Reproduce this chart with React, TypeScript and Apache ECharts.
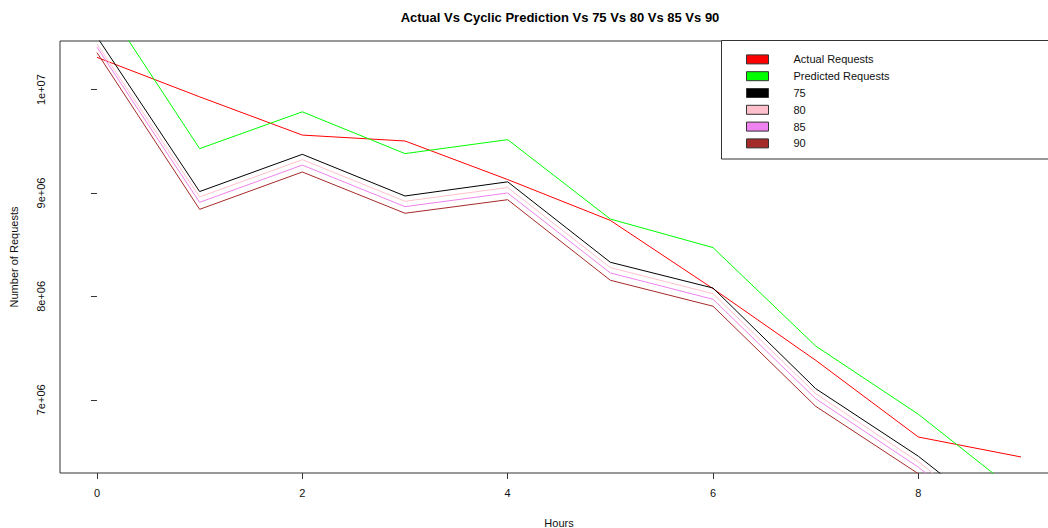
import React, { useEffect, useRef } from "react";
import * as echarts from "echarts";

const hours = [0, 1, 2, 3, 4, 5, 6, 7, 8, 9];
const actual = [10312000, 9930000, 9560000, 9503000, 9130000, 8735000, 8075000, 7382000, 6640000, 6447000];
const predicted = [10941000, 9429000, 9785000, 9381000, 9516000, 8748000, 8472000, 7520000, 6860000, 6076000];
const p75 = [10510000, 9014000, 9374000, 8971000, 9108000, 8330000, 8081000, 7108000, 6454000, 5672000];
const p80 = [10440000, 8962000, 9322000, 8920000, 9053000, 8278000, 8026000, 7060000, 6400000, 5620000];
const p85 = [10410000, 8910000, 9270000, 8868000, 9000000, 8227000, 7972000, 7010000, 6348000, 5570000];
const p90 = [10358000, 8842000, 9203000, 8804000, 8935000, 8156000, 7905000, 6937000, 6285000, 5500000];

const seriesNames = ["Actual Requests", "Predicted Requests", "75", "80", "85", "90"];
const seriesColors = ["#ff0000", "#00ff00", "#000000", "#ffc0cb", "#ee82ee", "#a52a2a"];
const seriesValues = [actual, predicted, p75, p80, p85, p90];

const xTicks = [0, 2, 4, 6, 8];
const yTicks = [7000000, 8000000, 9000000, 10000000];
const yTickLabels = ["7e+06", "8e+06", "9e+06", "1e+07"];

const FONT = "'Liberation Sans', Arial, sans-serif";

export default function App() {
  const ref = useRef<HTMLDivElement>(null);
  useEffect(() => {
    if (!ref.current) return;
    const chart = echarts.init(ref.current, undefined, { renderer: "svg" });
    chart.setOption({
      animation: false,
      backgroundColor: "#ffffff",
      textStyle: { fontFamily: FONT },
      title: {
        text: "Actual Vs Cyclic Prediction Vs 75 Vs 80 Vs 85 Vs 90",
        left: 555,
        top: 6,
        textAlign: "center",
        textStyle: { fontFamily: FONT, fontSize: 13, fontWeight: "bold", color: "#000" },
      },
      grid: {
        left: 60,
        top: 41,
        width: 998,
        height: 432,
        outerBoundsMode: "none",
        containLabel: false,
        show: true,
        borderColor: "#333",
        borderWidth: 1,
        backgroundColor: "transparent",
      },
      graphic: [
        {
          type: "rect",
          shape: { x: 721.5, y: 40.5, width: 400, height: 118.5 },
          style: { fill: "#fff", stroke: "#333", lineWidth: 1 },
          z: 50,
        },
      ],
      legend: {
        orient: "vertical",
        left: 746,
        top: 51,
        padding: 0,
        itemGap: 0,
        itemWidth: 22,
        itemHeight: 9,
        icon: "rect",
        z: 60,
        itemStyle: { borderColor: "#333", borderWidth: 1 },
        textStyle: {
          fontFamily: FONT,
          fontSize: 11,
          color: "#111",
          lineHeight: 16.8,
          padding: [0, 0, 0, 20],
        },
        data: seriesNames,
      },
      xAxis: {
        type: "value",
        min: -0.36,
        max: 9.36,
        name: "Hours",
        nameLocation: "middle",
        nameGap: 44,
        nameTextStyle: { fontFamily: FONT, fontSize: 11, color: "#111" },
        axisLine: { show: false },
        axisTick: {
          show: true,
          customValues: xTicks,
          length: 6,
          lineStyle: { color: "#333" },
        },
        axisLabel: {
          customValues: xTicks,
          margin: 14,
          fontFamily: FONT,
          fontSize: 11,
          color: "#111",
        },
        splitLine: { show: false },
      },
      yAxis: {
        type: "value",
        min: 6292000,
        max: 10470000,
        name: "Number of Requests",
        nameLocation: "middle",
        nameGap: 41,
        nameTextStyle: { fontFamily: FONT, fontSize: 11, color: "#111" },
        axisLine: { show: false },
        axisTick: {
          show: true,
          customValues: yTicks,
          length: 6,
          lineStyle: { color: "#333" },
        },
        axisLabel: {
          customValues: yTicks,
          rotate: 90,
          margin: 14,
          fontFamily: FONT,
          fontSize: 11,
          color: "#111",
          formatter: (v: number) => {
            const i = yTicks.indexOf(v);
            return i >= 0 ? yTickLabels[i] : "";
          },
        },
        splitLine: { show: false },
      },
      series: seriesNames.map((name, i) => ({
        name,
        type: "line",
        symbol: "none",
        clip: true,
        color: seriesColors[i],
        lineStyle: { color: seriesColors[i], width: 1 },
        data: hours.map((h, j) => [h, seriesValues[i][j]]),
      })),
    });
    return () => chart.dispose();
  }, []);
  return (
    <div
      ref={ref}
      style={{ position: "absolute", left: 0, top: 0, width: 1048, height: 528 }}
    />
  );
}
